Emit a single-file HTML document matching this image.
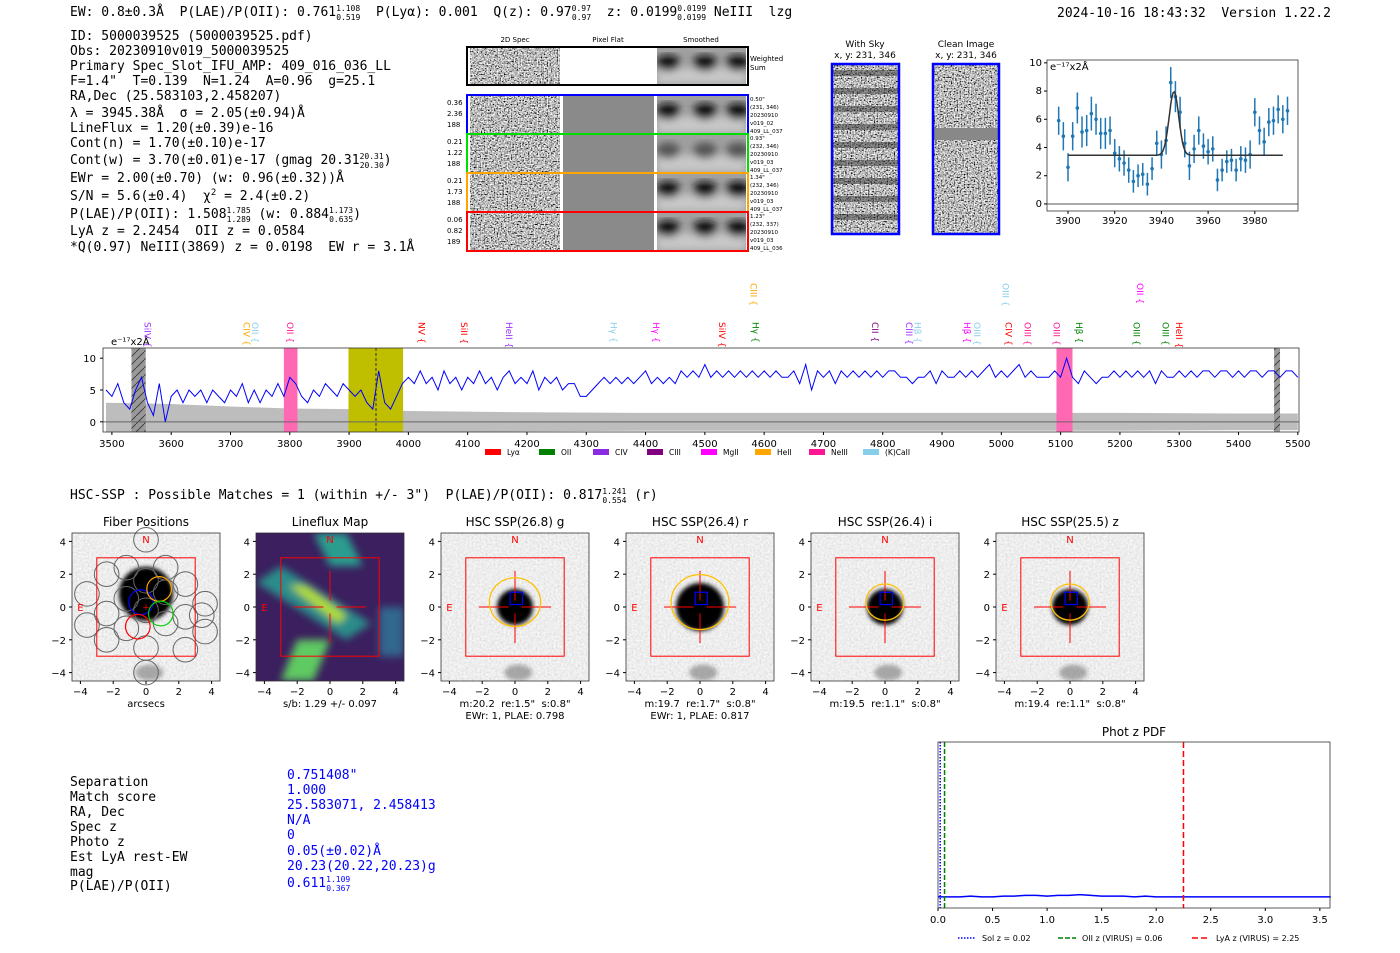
<!DOCTYPE html>
<html><head><meta charset="utf-8"><style>
body{margin:0;background:#fff;}
svg{display:block;font-family:"DejaVu Sans","Liberation Sans",sans-serif;}
text{white-space:pre;}
.mono{font-family:"DejaVu Sans Mono","Liberation Mono",monospace;font-size:13px;fill:#000;white-space:pre;}
.tk{font-size:10px;fill:#000;}
.sm{font-size:7px;fill:#000;}
</style></head><body>
<svg id="s" width="1400" height="953" viewBox="0 0 1400 953">
<defs>
<filter id="noise" x="0" y="0" width="100%" height="100%"><feTurbulence type="fractalNoise" baseFrequency="0.7" numOctaves="1" seed="3"/><feColorMatrix type="saturate" values="0"/><feComponentTransfer><feFuncR type="linear" slope="3.2" intercept="-1.1"/><feFuncG type="linear" slope="3.2" intercept="-1.1"/><feFuncB type="linear" slope="3.2" intercept="-1.1"/><feFuncA type="linear" slope="0" intercept="1"/></feComponentTransfer></filter>
<filter id="noiseL" x="0" y="0" width="100%" height="100%"><feTurbulence type="fractalNoise" baseFrequency="0.5" numOctaves="1" seed="7"/><feComponentTransfer><feFuncR type="linear" slope="0.5" intercept="0.6"/><feFuncG type="linear" slope="0.5" intercept="0.6"/><feFuncB type="linear" slope="0.5" intercept="0.6"/><feFuncA type="linear" slope="0" intercept="1"/></feComponentTransfer><feColorMatrix type="saturate" values="0"/></filter>
<filter id="blur4"><feGaussianBlur stdDeviation="4"/></filter>
<filter id="blur2"><feGaussianBlur stdDeviation="2"/></filter>
<pattern id="hatch" width="8" height="8" patternUnits="userSpaceOnUse"><rect width="8" height="8" fill="#999"/><path d="M0,8 L8,0" stroke="#333" stroke-width="0.8"/></pattern>
</defs>

<text class="mono" x="70" y="16">EW: 0.8±0.3Å  P(LAE)/P(OII): 0.761<tspan font-size="8" dy="-5">1.108</tspan><tspan font-size="8" dx="-24" dy="9">0.519</tspan><tspan dy="-4">  P(Lyα): 0.001  Q(z): 0.97</tspan><tspan font-size="8" dy="-5">0.97</tspan><tspan font-size="8" dx="-19" dy="9">0.97</tspan><tspan dy="-4">  z: 0.0199</tspan><tspan font-size="8" dy="-5">0.0199</tspan><tspan font-size="8" dx="-29" dy="9">0.0199</tspan><tspan dy="-4"> NeIII  lzg</tspan></text>
<text class="mono" x="1057" y="17">2024-10-16 18:43:32  Version 1.22.2</text>

<g>
<text class="mono" x="70" y="40">ID: 5000039525 (5000039525.pdf)</text>
<text class="mono" x="70" y="55">Obs: 20230910v019_5000039525</text>
<text class="mono" x="70" y="70">Primary Spec_Slot_IFU_AMP: 409_016_036_LL</text>
<text class="mono" x="70" y="85">F=1.4"  T=0.139  N=1.24  A=0.96  g=25.1</text>
<text class="mono" x="70" y="100">RA,Dec (25.583103,2.458207)</text>
<text class="mono" x="70" y="117">λ = 3945.38Å  σ = 2.05(±0.94)Å</text>
<text class="mono" x="70" y="132">LineFlux = 1.20(±0.39)e-16</text>
<text class="mono" x="70" y="147">Cont(n) = 1.70(±0.10)e-17</text>
<text class="mono" x="70" y="164">Cont(w) = 3.70(±0.01)e-17 (gmag 20.31<tspan font-size="8" dy="-5">20.31</tspan><tspan font-size="8" dx="-24" dy="9">20.30</tspan><tspan dy="-4">)</tspan></text>
<text class="mono" x="70" y="182">EWr = 2.00(±0.70) (w: 0.96(±0.32))Å</text>
<text class="mono" x="70" y="200">S/N = 5.6(±0.4)  χ<tspan font-size="9" dy="-5">2</tspan><tspan dy="5"> = 2.4(±0.2)</tspan></text>
<text class="mono" x="70" y="218">P(LAE)/P(OII): 1.508<tspan font-size="8" dy="-5">1.785</tspan><tspan font-size="8" dx="-24" dy="9">1.289</tspan><tspan dy="-4"> (w: 0.884</tspan><tspan font-size="8" dy="-5">1.173</tspan><tspan font-size="8" dx="-24" dy="9">0.635</tspan><tspan dy="-4">)</tspan></text>
<text class="mono" x="70" y="235">LyA z = 2.2454  OII z = 0.0584</text>
<text class="mono" x="70" y="251">*Q(0.97) NeIII(3869) z = 0.0198  EW r = 3.1Å</text>
</g>

<g id="cutouts"></g>
<g id="skyimgs"></g>
<g id="zoomplot"></g>
<g id="spec"></g>

<text class="mono" x="70" y="499">HSC-SSP : Possible Matches = 1 (within +/- 3")  P(LAE)/P(OII): 0.817<tspan font-size="8" dy="-5">1.241</tspan><tspan font-size="8" dx="-24" dy="9">0.554</tspan><tspan dy="-4"> (r)</tspan></text>
<g id="thumbs"></g>

<g>
<text class="mono" x="70" y="786">Separation</text><text class="mono" x="70" y="801">Match score</text><text class="mono" x="70" y="816">RA, Dec</text><text class="mono" x="70" y="831">Spec z</text><text class="mono" x="70" y="846">Photo z</text><text class="mono" x="70" y="861">Est LyA rest-EW</text><text class="mono" x="70" y="876">mag</text><text class="mono" x="70" y="890">P(LAE)/P(OII)</text>
<text class="mono" style="fill:#00f" x="287" y="779">0.751408"</text><text class="mono" style="fill:#00f" x="287" y="794">1.000</text><text class="mono" style="fill:#00f" x="287" y="809">25.583071, 2.458413</text><text class="mono" style="fill:#00f" x="287" y="824">N/A</text><text class="mono" style="fill:#00f" x="287" y="839">0</text><text class="mono" style="fill:#00f" x="287" y="855">0.05(±0.02)Å</text><text class="mono" style="fill:#00f" x="287" y="870">20.23(20.22,20.23)g</text><text class="mono" style="fill:#00f" x="287" y="887">0.611<tspan font-size="8" dy="-5">1.109</tspan><tspan font-size="8" dx="-24" dy="9">0.367</tspan></text>
</g>
<g id="pdf"></g>
</svg>
<script>
// ---------- data ----------
const specStart = 3490, specStep = 10;
const specFlux = [5,4,6,3,2,5,7,3,1,6,0,4,5,3,5,4,5,3,5,4,3,5,4,6,3,5,3,5,4,6,4,7,6,4,3,5,4,6,5,4,6,5,4,5,3,2,8,3,2,4,6,7,6,8,6,7,5,8,6,7,5,7,6,8,6,7,5,7,8,6,7,6,8,5,7,6,7,5,6,6,4,4,5,6,7,6,7,6,7,6,7,8,6,7,6,7,6,8,7,8,7,9,7,8,7,8,7,8,7,8,7,8,7,8,7,7,8,6,9,5,8,7,8,6,8,7,8,7,8,7,8,7,8,8,7,7,6,7,7,8,6,8,7,7,8,7,8,7,8,9,7,8,7,8,9,7,8,7,7,7,8,7,10,7,6,8,7,6,7,7,8,7,8,7,8,7,8,6,8,7,7,8,7,8,7,8,8,7,8,8,7,8,7,8,8,7,8,8,7,8,8,7];
const errWave = [3490,3600,3700,3800,3900,4000,4100,4200,4400,4600,4800,5000,5200,5400,5500];
const errVal  = [3.0,2.8,2.4,2.1,2.0,1.7,1.6,1.5,1.4,1.4,1.4,1.4,1.4,1.3,1.3];
const specTicks = [3500,3600,3700,3800,3900,4000,4100,4200,4300,4400,4500,4600,4700,4800,4900,5000,5100,5200,5300,5400,5500];
const specYTicks = [0,5,10];
const lineNames = ["SiIV","CIV","OII","OII","NV","SiII","HeII","Hγ","Hγ","SiIV","CIII","Hγ","CII","CIII","Hβ","Hβ","OIII","OIII","CIV","OIII","OIII","Hβ","OII","OIII","OIII","HeII"];
const lineWaves = [3560,3727,3741,3800,4022,4094,4170,4346,4418,4529,4582,4585,4787,4844,4859,4942,4959,5007,5012,5044,5093,5131,5234,5228,5277,5300];
const lineColors = ["#9b30ff","#ffa500","#87ceeb","#ff1493","#ff0000","#ff0000","#9b30ff","#87ceeb","#ff00ff","#ff0000","#ffa500","#008000","#800080","#9b30ff","#87ceeb","#ff00ff","#87ceeb","#87ceeb","#ff0000","#ff1493","#ff1493","#008000","#ff00ff","#008000","#008000","#ff0000"];
const lineHigh = [0,0,0,0,0,0,0,0,0,0,1,0,0,0,0,0,0,1,0,0,0,0,1,0,0,0];
const legendNames = ["Lyα","OII","CIV","CIII","MgII","HeII","NeIII","(K)CaII"];
const legendColors = ["#ff0000","#008000","#8a2be2","#800080","#ff00ff","#ffa500","#ff1493","#87ceeb"];

const fitWave = [3896,3898,3900,3902,3904,3906,3908,3910,3912,3914,3916,3918,3920,3922,3924,3926,3928,3930,3932,3934,3936,3938,3940,3942,3944,3946,3948,3950,3952,3954,3956,3958,3960,3962,3964,3966,3968,3970,3972,3974,3976,3978,3980,3982,3984,3986,3988,3990,3992,3994];
const fitFlux = [5.9,4.8,2.6,4.8,6.8,5.1,5.2,6.4,6.0,5.0,5.0,5.2,3.6,3.2,2.9,2.4,1.6,2.0,2.1,1.4,2.5,4.3,3.5,4.5,8.6,7.6,6.5,4.3,2.7,3.9,5.2,4.1,3.7,3.9,1.7,2.4,3.0,3.1,2.4,3.2,3.1,3.5,6.5,5.2,4.4,5.8,5.9,6.7,6.0,6.6];
const fitErr = [1.0,1.0,1.0,1.0,1.1,1.1,1.1,1.2,1.1,1.1,1.1,1.0,1.0,0.9,0.9,0.9,0.8,0.8,0.8,0.8,0.8,0.9,1.0,1.0,1.1,1.1,1.1,1.0,1.0,1.0,1.0,0.9,0.9,0.9,0.8,0.8,0.8,0.8,0.8,0.9,0.9,1.0,1.0,1.0,1.0,1.0,1.0,1.0,1.0,1.0];
const fitCont = 3.45, fitCenter = 3945.38, fitSigma = 2.05, fitAmp = 4.5;
const zoomXTicks = [3900,3920,3940,3960,3980];
const zoomYTicks = [0,2,4,6,8,10];

const thumbTitles = ["Fiber Positions","Lineflux Map","HSC SSP(26.8) g","HSC SSP(26.4) r","HSC SSP(26.4) i","HSC SSP(25.5) z"];
const thumbCaps1 = ["arcsecs","s/b: 1.29 +/- 0.097","m:20.2  re:1.5\"  s:0.8\"","m:19.7  re:1.7\"  s:0.8\"","m:19.5  re:1.1\"  s:0.8\"","m:19.4  re:1.1\"  s:0.8\""];
const thumbCaps2 = ["","","EWr: 1, PLAE: 0.798","EWr: 1, PLAE: 0.817","",""];
const thumbEllipseR = [0,0,1.5,1.7,1.1,1.1];
const thumbTicks = [-4,-2,0,2,4];
const fiberX = [0,-1.2,1.2,-2.4,0,2.4,-3.6,-1.2,1.2,3.6,-2.4,0,2.4,-3.6,-1.2,1.2,3.6,-2.4,0,2.4,0,3.4];
const fiberY = [4.1,2.4,2.4,2.0,1.6,1.4,0.8,0.5,0.9,0.2,-0.4,-0.2,-0.6,-1.1,-1.3,-1.0,-1.5,-2.0,-2.5,-2.6,-4.0,-0.5];
const fiberHighlightX = [-0.3,0.8,0.9,-0.5];
const fiberHighlightY = [0.3,1.1,-0.4,-1.2];
const fiberHighlightC = ["#0000ff","#ffa500","#00cc00","#ff0000"];

const pdfXTicks = [0.0,0.5,1.0,1.5,2.0,2.5,3.0,3.5];
const pdfZ = [0,0.1,0.2,0.3,0.4,0.5,0.6,0.7,0.8,0.9,1.0,1.1,1.2,1.3,1.4,1.5,1.6,1.7,1.8,1.9,2.0,2.2,2.5,3.0,3.6];
const pdfP = [0.02,0.02,0.02,0.025,0.02,0.02,0.025,0.025,0.03,0.03,0.025,0.03,0.03,0.035,0.03,0.025,0.025,0.025,0.02,0.025,0.02,0.02,0.02,0.02,0.02];
const zSol = 0.02, zOII = 0.06, zLyA = 2.25;
const spec2dLabels = [["0.36","2.36","188"],["0.21","1.22","188"],["0.21","1.73","188"],["0.06","0.82","189"]];
const spec2dRight = [["0.50\"","(231, 346)","20230910","v019_02","409_LL_037"],["0.93\"","(232, 346)","20230910","v019_03","409_LL_037"],["1.34\"","(232, 346)","20230910","v019_03","409_LL_037"],["1.23\"","(232, 337)","20230910","v019_03","409_LL_036"]];
const spec2dColors = ["#0000ff","#00dd00","#ffa500","#ff0000"];

// ---------- helpers ----------
const NS="http://www.w3.org/2000/svg";
function mk(parent,tag,attrs,txt){const e=document.createElementNS(NS,tag);for(const k in attrs)e.setAttribute(k,attrs[k]);if(txt!==undefined)e.textContent=txt;parent.appendChild(e);return e;}

// ---------- 2D spec cutouts ----------
(function(){
 const g=document.getElementById('cutouts');
 const hdr=["2D Spec","Pixel Flat","Smoothed"], hx=[515,608,701];
 hdr.forEach((h,i)=>{const t=mk(g,'text',{x:hx[i],y:42,'text-anchor':'middle',class:'sm'},h);});
 function row(y,h,col,flat,dark){
  const r=mk(g,'g',{});
  
  
  mk(r,'rect',{x:470,y:y,width:90,height:h,fill:'#888',filter:'url(#noise)'});
  if(flat) mk(r,'rect',{x:563,y:y,width:91,height:h,fill:'#fff'});
  else mk(r,'rect',{x:563,y:y,width:91,height:h,fill:'#8a8a8a'});
  const cp='cc'+y; const c=mk(r,'clipPath',{id:cp}); mk(c,'rect',{x:657,y:y,width:89,height:h});
  const sg=mk(r,'g',{'clip-path':`url(#${cp})`});
  mk(sg,'rect',{x:657,y:y,width:89,height:h,fill:'#a0a0a0'});
  const sm=mk(sg,'g',{filter:'url(#blur4)'});
  mk(sm,'rect',{x:657,y:y+h*0.55,width:89,height:h*0.45,fill:'#c8c8c8'});
  [668,705,738].forEach(cx=>mk(sm,'ellipse',{cx:cx,cy:y+h*0.42,rx:12,ry:h*0.22,fill:dark?'#111':'#555'}));
  mk(r,'rect',{x:467,y:y-1,width:281,height:h+2,fill:'none',stroke:col,'stroke-width':2});
 }
 row(48,36,'#000',true,true);
 const t=mk(g,'text',{x:750,y:61,class:'sm'},'Weighted');
 mk(g,'text',{x:750,y:70,class:'sm'},'Sum');
 const ys=[96,135,174,213];
 ys.forEach((y,i)=>{row(y,37,spec2dColors[i],false,i!==1);
  spec2dLabels[i].forEach((s,j)=>mk(g,'text',{x:447,y:y+9+j*11,class:'sm'},s));
  spec2dRight[i].forEach((s,j)=>mk(g,'text',{x:750,y:y+5+j*8,'font-size':'5.5'},s));
 });
})();

// ---------- sky images ----------
(function(){
 const g=document.getElementById('skyimgs');
 mk(g,'text',{x:865,y:47,'text-anchor':'middle','font-size':'9'},'With Sky');
 mk(g,'text',{x:865,y:58,'text-anchor':'middle','font-size':'9'},'x, y: 231, 346');
 mk(g,'text',{x:966,y:47,'text-anchor':'middle','font-size':'9'},'Clean Image');
 mk(g,'text',{x:966,y:58,'text-anchor':'middle','font-size':'9'},'x, y: 231, 346');
 const a=mk(g,'g',{});
 mk(a,'rect',{x:832,y:64,width:67,height:170,fill:'#888',filter:'url(#noise)'});
 for(let k=0;k<9;k++) mk(a,'rect',{x:832,y:70+k*18,width:67,height:6,fill:'#222',opacity:0.45});
 mk(a,'rect',{x:832,y:64,width:67,height:170,fill:'none',stroke:'#0000ff','stroke-width':2.5});
 const b=mk(g,'g',{});
 mk(b,'rect',{x:933,y:64,width:66,height:170,fill:'#888',filter:'url(#noise)'});
 mk(b,'rect',{x:933,y:128,width:66,height:12,fill:'#888'});
 mk(b,'rect',{x:933,y:64,width:66,height:170,fill:'none',stroke:'#0000ff','stroke-width':2.5});
})();

// ---------- zoom fit plot ----------
(function(){
 const g=document.getElementById('zoomplot');
 const X0=1047,X1=1298,Y0=60,Y1=211, xa=3891, xb=3998.5, ya=-0.5, yb=10.2;
 const sx=v=>X0+(v-xa)/(xb-xa)*(X1-X0), sy=v=>Y1-(v-ya)/(yb-ya)*(Y1-Y0);
 mk(g,'line',{x1:X0,x2:X1,y1:sy(0),y2:sy(0),stroke:'#555','stroke-width':1});
 fitWave.forEach((w,i)=>{
  const e=mk(g,'line',{x1:sx(w),x2:sx(w),y1:sy(fitFlux[i]-fitErr[i]),y2:sy(fitFlux[i]+fitErr[i]),stroke:'#1f77b4','stroke-width':1.5});
  
  
  const p=mk(g,'circle',{cx:sx(w),cy:sy(fitFlux[i]),r:1.8,fill:'#1f77b4'});
  
  
 });
 let d='';for(let w=3900;w<=3992;w+=0.5){const f=fitCont+fitAmp*Math.exp(-0.5*Math.pow((w-fitCenter)/fitSigma,2));d+=(d?'L':'M')+sx(w).toFixed(1)+','+sy(f).toFixed(1);}
 const fl=mk(g,'path',{d:d,fill:'none',stroke:'#333','stroke-width':1.5});
 
 
 mk(g,'rect',{x:X0,y:Y0,width:X1-X0,height:Y1-Y0,fill:'none',stroke:'#333','stroke-width':0.8});
 zoomXTicks.forEach(t=>{mk(g,'line',{x1:sx(t),x2:sx(t),y1:Y1,y2:Y1+3,stroke:'#000'});mk(g,'text',{x:sx(t),y:Y1+13,'text-anchor':'middle',class:'tk','font-size':'9'},t);});
 zoomYTicks.forEach(t=>{mk(g,'line',{x1:X0-3,x2:X0,y1:sy(t),y2:sy(t),stroke:'#000'});mk(g,'text',{x:X0-5,y:sy(t)+3,'text-anchor':'end',class:'tk','font-size':'9'},t);});
 mk(g,'text',{x:X0+3,y:Y0+10,class:'tk','font-size':'9'},'e⁻¹⁷x2Å');
})();

// ---------- full spectrum ----------
(function(){
 const g=document.getElementById('spec');
 const X0=103,X1=1299,Y0=348,Y1=432, xa=3485, xb=5502, ya=-1.6, yb=11.6;
 const sx=v=>X0+(v-xa)/(xb-xa)*(X1-X0), sy=v=>Y1-(v-ya)/(yb-ya)*(Y1-Y0);
 let top='',bot='';
 errWave.forEach((w,i)=>{top+=(top?'L':'M')+sx(w).toFixed(1)+','+sy(errVal[i]).toFixed(1);});
 for(let i=errWave.length-1;i>=0;i--){bot+='L'+sx(errWave[i]).toFixed(1)+','+Math.min(Y1,sy(-errVal[i])).toFixed(1);}
 const band=mk(g,'path',{d:top+bot+'Z',fill:'#bdbdbd'});
 
 
 const hl=(a,b,c,n)=>{const r=mk(g,'rect',{x:sx(a),y:Y0,width:sx(b)-sx(a),height:Y1-Y0,fill:c});return r;};
 hl(3533,3557,'url(#hatch)','masked-region');
 hl(3790,3813,'#ff69b4','oii-region');
 hl(3899,3991,'#bfbf00','detection-region');
 hl(5093,5120,'#ff69b4','oiii-region');
 hl(5460,5470,'url(#hatch)','masked-region-2');
 mk(g,'line',{x1:X0,x2:X1,y1:sy(0),y2:sy(0),stroke:'#666','stroke-width':1});
 mk(g,'line',{x1:sx(3945.4),x2:sx(3945.4),y1:Y0,y2:Y1,stroke:'#333','stroke-dasharray':'3,2'});
 let d='';specFlux.forEach((f,i)=>{d+=(i?'L':'M')+sx(specStart+i*specStep).toFixed(1)+','+sy(f).toFixed(1);});
 const ln=mk(g,'path',{d:d,fill:'none',stroke:'#0000ff','stroke-width':1});
 
 
 mk(g,'rect',{x:X0,y:Y0,width:X1-X0,height:Y1-Y0,fill:'none',stroke:'#333','stroke-width':0.8});
 specTicks.forEach(t=>{mk(g,'line',{x1:sx(t),x2:sx(t),y1:Y1,y2:Y1+3,stroke:'#000'});mk(g,'text',{x:sx(t),y:Y1+15,'text-anchor':'middle',class:'tk'},t);});
 specYTicks.forEach(t=>{mk(g,'line',{x1:X0-3,x2:X0,y1:sy(t),y2:sy(t),stroke:'#000'});mk(g,'text',{x:X0-7,y:sy(t)+4,'text-anchor':'end',class:'tk'},t);});
 mk(g,'text',{x:111,y:345,class:'tk','font-size':'9'},'e⁻¹⁷x2Å');
 lineNames.forEach((n,i)=>{const x=sx(lineWaves[i]), y=lineHigh[i]?283:322;
  const t=mk(g,'text',{x:x,y:y,fill:lineColors[i],'font-size':'9',transform:`rotate(90 ${x} ${y})`,dy:'3'},n+' {');
  
  
 });
 let lx=485;
 legendNames.forEach((n,i)=>{const it=mk(g,'g',{});
  
  
  mk(it,'rect',{x:lx,y:449,width:16,height:6,fill:legendColors[i]});
  mk(it,'text',{x:lx+22,y:455,'font-size':'7.5'},n);
  lx+=54;
 });
})();

// ---------- thumbnails ----------
(function(){
 const g=document.getElementById('thumbs');
 const lefts=[72,256,441,626,811,996], W=148, T=533;
 lefts.forEach((L,i)=>{
  const p=mk(g,'g',{});
  
  
  const s=v=>L+W/2+v*16.4, sy=v=>T+W/2-v*16.4;
  const clipId='c'+i; const cp=mk(p,'clipPath',{id:clipId}); mk(cp,'rect',{x:L,y:T,width:W,height:W});
  const im=mk(p,'g',{'clip-path':`url(#${clipId})`});
  if(i===1){
   mk(im,'rect',{x:L,y:T,width:W,height:W,fill:'#3b1f5e'});
   const bl=mk(im,'g',{filter:'url(#blur4)'});
   mk(bl,'polygon',{points:`${s(-4.5)},${sy(1.5)} ${s(-3)},${sy(2.5)} ${s(2.5)},${sy(-1)} ${s(1)},${sy(-2)}`,fill:'#2a8c8a'});
   mk(bl,'polygon',{points:`${s(-2.5)},${sy(1.3)} ${s(-1.5)},${sy(1.3)} ${s(1)},${sy(-0.5)} ${s(0.5)},${sy(-1)}`,fill:'#b5de2b'});
   mk(bl,'polygon',{points:`${s(-1)},${sy(4.5)} ${s(1)},${sy(4.5)} ${s(2)},${sy(2.5)} ${s(0)},${sy(2.5)}`,fill:'#2a9d8f'});
   mk(bl,'polygon',{points:`${s(-3)},${sy(-4.5)} ${s(-1)},${sy(-4.5)} ${s(0)},${sy(-2)} ${s(-2)},${sy(-2)}`,fill:'#5ec962'});
   mk(bl,'polygon',{points:`${s(3)},${sy(0)} ${s(4.5)},${sy(0)} ${s(4.5)},${sy(-3)} ${s(3)},${sy(-3)}`,fill:'#31688e'});
  } else {
   mk(im,'rect',{x:L,y:T,width:W,height:W,fill:'#ddd',filter:'url(#noiseL)'});
   const bl=mk(im,'g',{filter:'url(#blur2)'});
   mk(bl,'circle',{cx:s(0),cy:sy(i===0?0.8:0),r:i===0?27:(i===3?24:18),fill:'#000'});
   mk(bl,'ellipse',{cx:s(0.2),cy:sy(-4),rx:14,ry:8,fill:'#777',opacity:0.6});
  }
  if(i===0){
   fiberX.forEach((fx,k)=>{const c=mk(p,'circle',{cx:s(fx),cy:sy(fiberY[k]),r:16.4*0.75,fill:'none',stroke:'#666','stroke-width':1});});
   fiberHighlightX.forEach((fx,k)=>{const c=mk(p,'circle',{cx:s(fx),cy:sy(fiberHighlightY[k]),r:16.4*0.75,fill:'none',stroke:fiberHighlightC[k],'stroke-width':1.2});});
  }
  mk(p,'rect',{x:s(-3),y:sy(3),width:6*16.4,height:6*16.4,fill:'none',stroke:'#f00','stroke-width':1});
  if(i>=1){
   mk(p,'line',{x1:s(-2.2),x2:s(-0.4),y1:sy(0),y2:sy(0),stroke:'#f00'});
   mk(p,'line',{x1:s(0.4),x2:s(2.2),y1:sy(0),y2:sy(0),stroke:'#f00'});
   mk(p,'line',{x1:s(0),x2:s(0),y1:sy(2.2),y2:sy(0.4),stroke:'#f00'});
   mk(p,'line',{x1:s(0),x2:s(0),y1:sy(-0.4),y2:sy(-2.2),stroke:'#f00'});
  } else mk(p,'text',{x:s(0),y:sy(0)+3,'text-anchor':'middle',fill:'#f00','font-size':'9'},'+');
  if(i>=2){
   const r=thumbEllipseR[i]*16.4+1;
   mk(p,'ellipse',{cx:s(0),cy:sy(0.3),rx:r,ry:r*0.95,fill:'none',stroke:'#ffc000','stroke-width':1.3});
   mk(p,'rect',{x:s(-0.3),y:sy(0.9),width:0.75*16.4,height:0.75*16.4,fill:'none',stroke:'#00f','stroke-width':1.2});
  }
  mk(p,'text',{x:s(0),y:sy(3.9),'text-anchor':'middle',fill:'#f00','font-size':'10'},'N');
  mk(p,'text',{x:s(-4),y:sy(0)+4,'text-anchor':'middle',fill:'#f00','font-size':'10'},'E');
  mk(p,'rect',{x:L,y:T,width:W,height:W,fill:'none',stroke:'#333','stroke-width':0.8});
  thumbTicks.forEach(t=>{
   mk(p,'line',{x1:s(t),x2:s(t),y1:T+W,y2:T+W+3,stroke:'#000'});
   mk(p,'text',{x:s(t),y:T+W+14,'text-anchor':'middle',class:'tk'},t<0?'−'+(-t):t);
   mk(p,'line',{x1:L-3,x2:L,y1:sy(t),y2:sy(t),stroke:'#000'});
   mk(p,'text',{x:L-6,y:sy(t)+4,'text-anchor':'end',class:'tk'},t<0?'−'+(-t):t);
  });
  mk(p,'text',{x:L+W/2,y:T-7,'text-anchor':'middle','font-size':'12'},thumbTitles[i]);
  mk(p,'text',{x:L+W/2,y:T+W+26,'text-anchor':'middle','font-size':'10'},thumbCaps1[i]);
  if(thumbCaps2[i]) mk(p,'text',{x:L+W/2,y:T+W+38,'text-anchor':'middle','font-size':'10'},thumbCaps2[i]);
 });
})();

// ---------- phot z pdf ----------
(function(){
 const g=document.getElementById('pdf');
 const X0=938,X1=1330,Y0=742,Y1=908, xa=0, xb=3.593, ya=-0.05, yb=1.0;
 const sx=v=>X0+(v-xa)/(xb-xa)*(X1-X0), sy=v=>Y1-(v-ya)/(yb-ya)*(Y1-Y0);
 mk(g,'text',{x:(X0+X1)/2,y:Y0-6,'text-anchor':'middle','font-size':'12'},'Phot z PDF');
 let d='';pdfZ.forEach((z,i)=>{d+=(i?'L':'M')+sx(z).toFixed(1)+','+sy(pdfP[i]).toFixed(1);});
 const ln=mk(g,'path',{d:d,fill:'none',stroke:'#0000ff','stroke-width':1.5});
 
 
 const vl=(z,c,da,n)=>{const l=mk(g,'line',{x1:sx(z),x2:sx(z),y1:Y0,y2:Y1,stroke:c,'stroke-width':1.5,'stroke-dasharray':da});};
 vl(zSol,'#0000ff','1.5,1.5','sol-z-line');
 vl(zOII,'#008000','5,2','oii-z-line');
 vl(zLyA,'#ff0000','6,3','lya-z-line');
 mk(g,'rect',{x:X0,y:Y0,width:X1-X0,height:Y1-Y0,fill:'none',stroke:'#333','stroke-width':0.8});
 pdfXTicks.forEach(t=>{mk(g,'line',{x1:sx(t),x2:sx(t),y1:Y1,y2:Y1+3,stroke:'#000'});mk(g,'text',{x:sx(t),y:Y1+15,'text-anchor':'middle',class:'tk'},t.toFixed(1));});
 const leg=[['Sol z = 0.02','#0000ff','1.5,1.5',958],['OII z (VIRUS) = 0.06','#008000','5,2',1058],['LyA z (VIRUS) = 2.25','#ff0000','6,3',1192]];
 leg.forEach(l=>{const it=mk(g,'g',{});
  
  
  mk(it,'line',{x1:l[3],x2:l[3]+18,y1:938,y2:938,stroke:l[1],'stroke-width':1.5,'stroke-dasharray':l[2]});
  mk(it,'text',{x:l[3]+24,y:941,'font-size':'8'},l[0]);});
})();
</script>
</body></html>
